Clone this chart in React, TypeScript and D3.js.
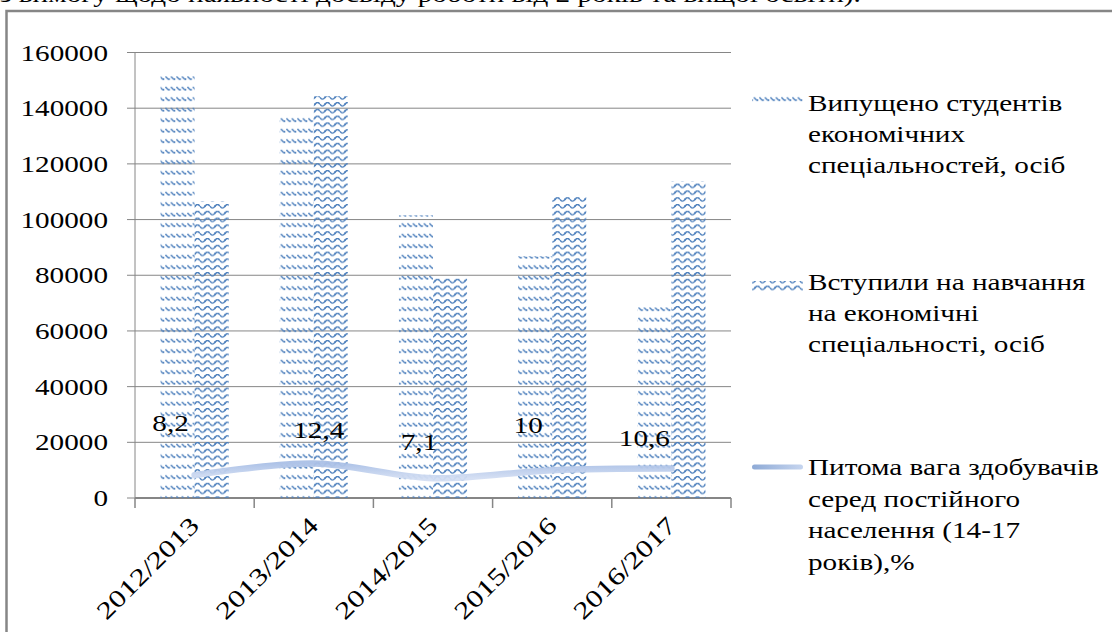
import React from "react";
import * as d3 from "d3";

const categories = ["2012/2013", "2013/2014", "2014/2015", "2015/2016", "2016/2017"];
const graduated = [151500, 138200, 101500, 86800, 68500];
const enrolled = [106500, 144300, 79000, 108300, 113700];
const sharePct = [8.2, 12.4, 7.1, 10, 10.6];
const shareLabels = ["8,2", "12,4", "7,1", "10", "10,6"];
const yTicks = [0, 20000, 40000, 60000, 80000, 100000, 120000, 140000, 160000];
const legendLabels = [
  ["Випущено студентів", "економічних", "спеціальностей, осіб"],
  ["Вступили на навчання", "на економічні", "спеціальності, осіб"],
  ["Питома вага здобувачів", "серед постійного", "населення (14-17", "років),%"],
];
const topText = "з вимогу щодо наявності досвіду роботи від 2 років та вищої освіти).";

// label placement offsets (layout, not data)
const labelOffsets: [number, number][] = [[-24, -52], [5, -33], [-14, -36], [-24, -45], [-27, -30]];

const W = 1112, H = 632;
const M = { left: 135, right: 731, top: 52.5, bottom: 498 };
const SX = 1.27;
const FONT = "Liberation Serif";
const BLUE = "#4f81bd";
const GRID = "#868686";

function T(props: { x: number; y: number; anchor?: string; size?: number; tf?: string; children: any }) {
  const { x, y, anchor = "start", size = 23, tf, children } = props;
  return (
    <text
      transform={`translate(${x},${y}) ${tf ?? `scale(${SX},1)`}`}
      textAnchor={anchor}
      style={{ fontFamily: FONT, fontSize: size + "px" }}
      fill="#000"
    >
      {children}
    </text>
  );
}

export default function App() {
  const x = d3.scaleBand<string>().domain(categories).range([M.left, M.right]).padding(0);
  const xSub = d3.scaleBand<string>().domain(["a", "b"]).range([0, x.bandwidth()]).paddingInner(0).paddingOuter(0.75);
  const y = d3.scaleLinear().domain([0, 160000]).range([M.bottom, M.top]);
  const y2 = d3.scaleLinear().domain([0, 160]).range([M.bottom, M.top]);

  const pts: [number, number][] = sharePct.map((v, i) => [x(categories[i])! + x.bandwidth() / 2, y2(v)]);
  const line = d3.line().curve(d3.curveCatmullRom.alpha(0.5))(pts) || "";

  const ticksX = [...categories.map((c) => x(c)!), M.right];

  return (
    <svg width={W} height={H} style={{ position: "absolute", left: 0, top: 0, background: "#fff" }}>
      <defs>
        <pattern id="pA" patternUnits="userSpaceOnUse" width="5.5" height="10.5">
          <path d="M0.4,3 L3.2,5.8" stroke={BLUE} strokeWidth="1.4" fill="none" />
          <rect x="3" y="4.8" width="1.8" height="1.8" fill={BLUE} />
        </pattern>
        <pattern id="pB" patternUnits="userSpaceOnUse" width="10" height="6.8">
          <path d="M0,2.2 Q2.5,5.8 5,2.2 T10,2.2" stroke={BLUE} strokeWidth="1.4" fill="none" />
          <rect x="4.2" y="1.3" width="1.7" height="1.7" fill={BLUE} />
        </pattern>
        <linearGradient id="lg" x1="0" x2="1" y1="0" y2="0">
          <stop offset="0" stopColor="#8eaad6" />
          <stop offset="1" stopColor="#c6d5ef" />
        </linearGradient>
        <linearGradient id="lineG" x1="0" x2="0" y1="0" y2="1">
          <stop offset="0" stopColor="#aac0e6" />
          <stop offset="1" stopColor="#d3def3" />
        </linearGradient>
      </defs>

      {/* cut-off text line above the frame */}
      <T x={0} y={2}>{topText}</T>

      {/* frame */}
      <rect x={6.5} y={11} width={W + 10} height={H + 10} fill="none" stroke={GRID} strokeWidth={2.5} />

      {/* gridlines */}
      {yTicks.map((t) => (
        <line key={t} x1={M.left} x2={M.right} y1={y(t)} y2={y(t)} stroke={GRID} strokeWidth={t === 0 ? 2 : 1} />
      ))}
      {/* y axis */}
      <line x1={M.left} x2={M.left} y1={M.top} y2={M.bottom} stroke={GRID} strokeWidth={1} />
      {yTicks.map((t) => (
        <g key={"yt" + t}>
          <line x1={M.left - 8} x2={M.left} y1={y(t)} y2={y(t)} stroke={GRID} strokeWidth={1} />
          <T x={108} y={y(t) + 8} anchor="end">{String(t)}</T>
        </g>
      ))}
      {/* x ticks */}
      {ticksX.map((tx, i) => (
        <line key={"xt" + i} x1={tx} x2={tx} y1={M.bottom} y2={M.bottom + 10} stroke={GRID} strokeWidth={1.5} />
      ))}

      {/* bars */}
      {categories.map((c, i) => (
        <g key={c}>
          <rect x={x(c)! + xSub("a")!} y={y(graduated[i])} width={xSub.bandwidth()} height={y(0) - y(graduated[i])} fill="url(#pA)" />
          <rect x={x(c)! + xSub("b")!} y={y(enrolled[i])} width={xSub.bandwidth()} height={y(0) - y(enrolled[i])} fill="url(#pB)" />
        </g>
      ))}

      {/* line */}
      <path d={line} fill="none" stroke="url(#lineG)" strokeWidth={6.5} strokeLinecap="round" opacity={0.95} />

      {/* data labels */}
      {pts.map((p, i) => (
        <T key={"dl" + i} x={p[0] + labelOffsets[i][0]} y={p[1] + labelOffsets[i][1] + 8} anchor="middle">
          {shareLabels[i]}
        </T>
      ))}

      {/* x labels */}
      {categories.map((c) => (
        <T key={"xl" + c} x={x(c)! + x.bandwidth() / 2 + 6} y={527} anchor="end" size={24.5} tf="rotate(-45) scale(1.27,1)">
          {c}
        </T>
      ))}

      {/* legend */}
      <rect x={752} y={94} width={51} height={11} fill="url(#pA)" />
      <rect x={752} y={281} width={51} height={11} fill="url(#pB)" />
      <rect x={752} y={464.5} width={51} height={5} rx={2.5} fill="url(#lg)" />
      {legendLabels[0].map((s, i) => (
        <T key={"l0" + i} x={808} y={111 + i * 31}>{s}</T>
      ))}
      {legendLabels[1].map((s, i) => (
        <T key={"l1" + i} x={808} y={290 + i * 31}>{s}</T>
      ))}
      {legendLabels[2].map((s, i) => (
        <T key={"l2" + i} x={808} y={475 + i * 31.5}>{s}</T>
      ))}
    </svg>
  );
}
